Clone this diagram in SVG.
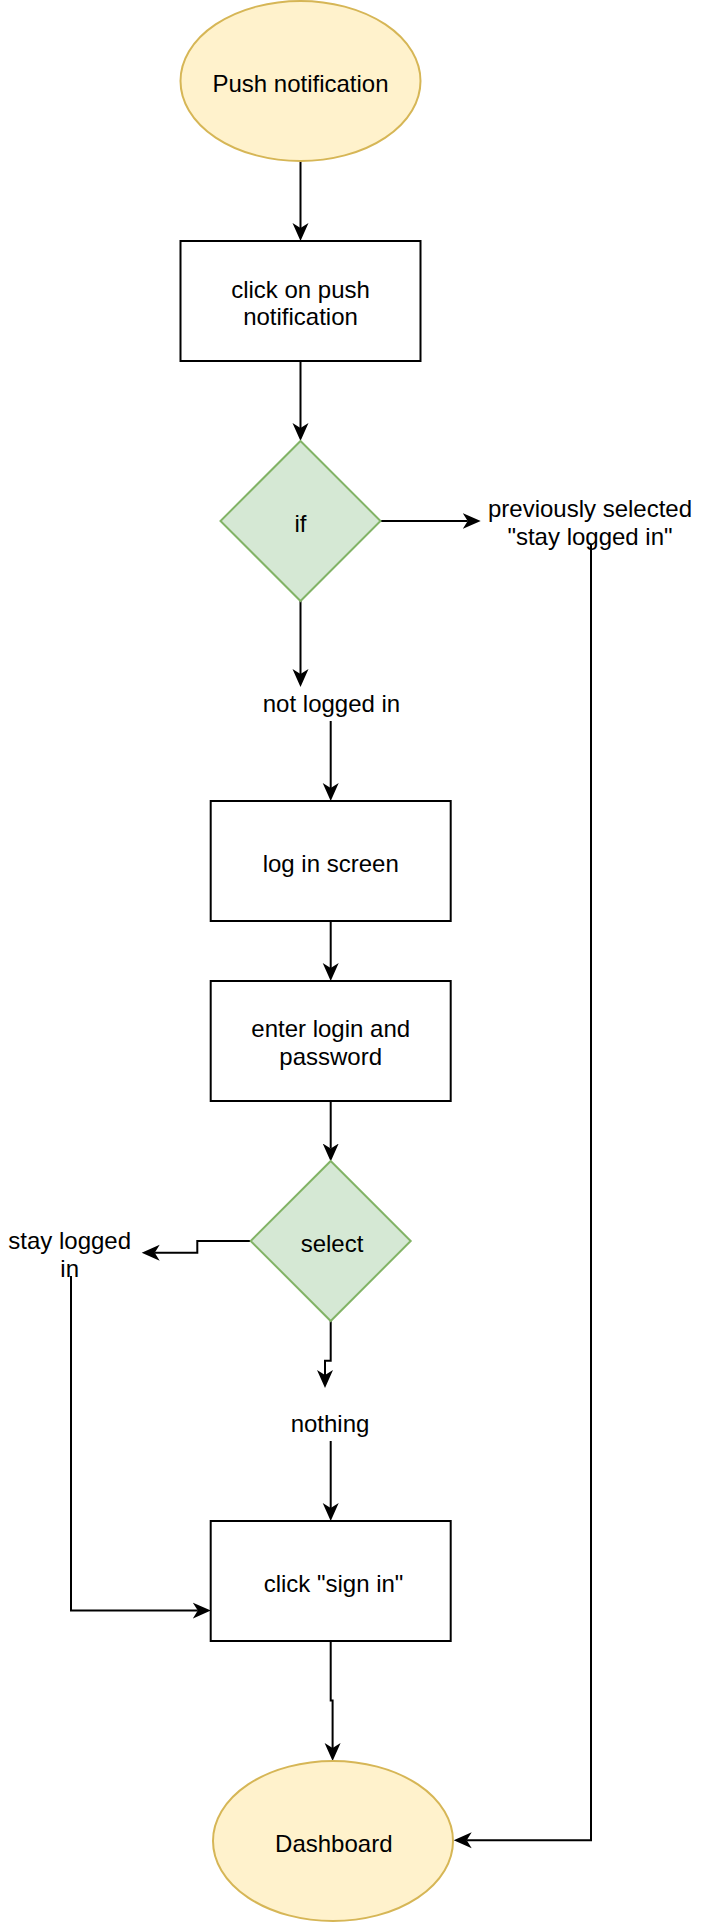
<svg xmlns="http://www.w3.org/2000/svg" width="702" height="1922" viewBox="0 0 702 1922">
<style>
.t{font-family:"Liberation Sans",Arial,Helvetica,sans-serif;font-size:24px;fill:#000;text-anchor:middle}
.term{fill:#fff2cc;stroke:#d6b656;stroke-width:2}
.proc{fill:#fff;stroke:#000;stroke-width:2}
.dec{fill:#d5e8d4;stroke:#82b366;stroke-width:2}
.c{fill:none;stroke:#000;stroke-width:2;marker-end:url(#arr)}
</style>
<defs>
<marker id="arr" markerUnits="userSpaceOnUse" markerWidth="20" markerHeight="20" viewBox="0 -10 20 20" refX="5" refY="0" orient="auto">
<path d="M0,-8 L18,0 L0,8 L5,0 Z" fill="#000"/>
</marker>
</defs>
<rect width="702" height="1922" fill="#fff"/>
<g id="connectors">
<path class="c" d="M300.5,161 V228"/>
<path class="c" d="M300.5,361 V428"/>
<path class="c" d="M381,521 H467.7"/>
<path class="c" d="M300.5,601 V674"/>
<path class="c" d="M330.7,721 V788"/>
<path class="c" d="M330.7,921 V968"/>
<path class="c" d="M330.7,1101 V1148.5"/>
<path class="c" d="M250.5,1241 H197.3 V1252.7 H154.7"/>
<path class="c" d="M330.7,1321 V1360.7 H325 V1375"/>
<path class="c" d="M330.7,1441 V1508"/>
<path class="c" d="M71,1276 V1610.6 H197.8"/>
<path class="c" d="M330.7,1641 V1700.6 H332.6 V1748"/>
<path class="c" d="M591,545 V1840.3 H466.7"/>
</g>
<g id="push-notification">
<ellipse class="term" cx="300.5" cy="81" rx="120" ry="80"/>
<text class="t" x="300.5" y="92.3">Push notification</text>
</g>
<g id="click-push">
<rect class="proc" x="180.5" y="241" width="240" height="120"/>
<text class="t" x="300.5" y="298">click on push</text>
<text class="t" x="300.5" y="325.3">notification</text>
</g>
<g id="if">
<polygon class="dec" points="300.5,441 380.5,521 300.5,601 220.5,521"/>
<text class="t" x="300.5" y="532">if</text>
</g>
<g id="previously-selected">
<text class="t" x="590" y="517.3">previously selected</text>
<text class="t" x="590" y="545">"stay logged in"</text>
</g>
<g id="not-logged-in">
<text class="t" x="331.5" y="711.7">not logged in</text>
</g>
<g id="log-in-screen">
<rect class="proc" x="210.7" y="801" width="240" height="120"/>
<text class="t" x="330.7" y="871.7">log in screen</text>
</g>
<g id="enter-login">
<rect class="proc" x="210.7" y="981" width="240" height="120"/>
<text class="t" x="330.7" y="1037">enter login and</text>
<text class="t" x="330.7" y="1064.5">password</text>
</g>
<g id="select">
<polygon class="dec" points="330.7,1161 410.7,1241 330.7,1321 250.7,1241"/>
<text class="t" x="332" y="1252">select</text>
</g>
<g id="stay-logged-in">
<text class="t" x="69.7" y="1249.3">stay logged</text>
<text class="t" x="69.7" y="1277.3">in</text>
</g>
<g id="nothing">
<text class="t" x="330" y="1431.7">nothing</text>
</g>
<g id="click-sign-in">
<rect class="proc" x="210.7" y="1521" width="240" height="120"/>
<text class="t" x="333.5" y="1591.7">click "sign in"</text>
</g>
<g id="dashboard">
<ellipse class="term" cx="333" cy="1841" rx="120" ry="80"/>
<text class="t" x="333.8" y="1851.7">Dashboard</text>
</g>
</svg>
